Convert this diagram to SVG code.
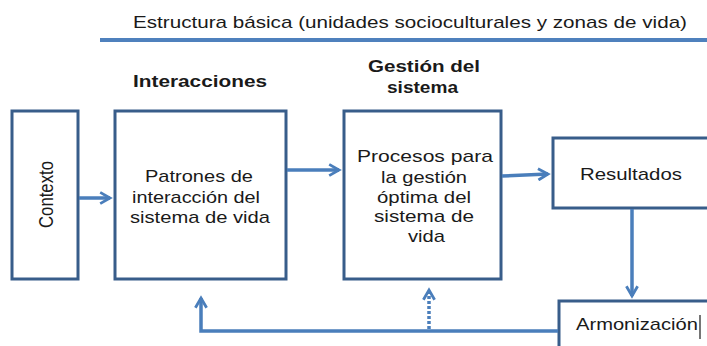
<svg xmlns="http://www.w3.org/2000/svg" width="707" height="346" viewBox="0 0 707 346">
<style>
text{font-family:"Liberation Sans",Arial,sans-serif;fill:#1a1a1a;font-size:17px}
.b{font-weight:bold;font-size:17px}
.box{fill:#fff;stroke:#385d8a;stroke-width:3}
.c{fill:none;stroke:#4a7ebb;stroke-width:3.5}
.d{stroke-dasharray:3 2}
</style>
<defs>
<marker id="ah" viewBox="0 0 10 10" refX="8" refY="5" markerWidth="4" markerHeight="4" orient="auto" markerUnits="strokeWidth">
<path d="M1,1 L8,5 L1,9" fill="none" stroke="#4a7ebb" stroke-width="2"/>
</marker>
</defs>
<g id="title">
<text x="133" y="28" textLength="554" lengthAdjust="spacingAndGlyphs">Estructura básica (unidades socioculturales y zonas de vida)</text>
<line x1="100" y1="40" x2="707" y2="40" stroke="#4f81bd" stroke-width="4"/>
</g>
<text class="b" x="133" y="87" textLength="134" lengthAdjust="spacingAndGlyphs">Interacciones</text>
<text class="b" x="368" y="72" textLength="112" lengthAdjust="spacingAndGlyphs">Gestión del</text>
<text class="b" x="387" y="93" textLength="71" lengthAdjust="spacingAndGlyphs">sistema</text>
<g id="contexto">
<rect class="box" x="12" y="111" width="66" height="168"/>
<text transform="translate(53,228) scale(1.2,1) rotate(-90)" textLength="67" lengthAdjust="spacingAndGlyphs">Contexto</text>
</g>
<g id="patrones">
<rect class="box" x="115" y="111" width="171" height="168"/>
<text x="145" y="182" textLength="108" lengthAdjust="spacingAndGlyphs">Patrones de</text>
<text x="132" y="203" textLength="128" lengthAdjust="spacingAndGlyphs">interacción del</text>
<text x="130" y="223" textLength="140" lengthAdjust="spacingAndGlyphs">sistema de vida</text>
</g>
<g id="procesos">
<rect class="box" x="344" y="111" width="157" height="168"/>
<text x="357" y="162" textLength="136" lengthAdjust="spacingAndGlyphs">Procesos para</text>
<text x="381" y="183" textLength="86" lengthAdjust="spacingAndGlyphs">la gestión</text>
<text x="377" y="203" textLength="94" lengthAdjust="spacingAndGlyphs">óptima del</text>
<text x="374" y="222" textLength="100" lengthAdjust="spacingAndGlyphs">sistema de</text>
<text x="408" y="242" textLength="37" lengthAdjust="spacingAndGlyphs">vida</text>
</g>
<g id="resultados">
<rect class="box" x="553" y="138" width="170" height="70"/>
<text x="580" y="180" textLength="102" lengthAdjust="spacingAndGlyphs">Resultados</text>
</g>
<g id="armonizacion">
<rect class="box" x="559" y="301" width="170" height="60"/>
<text x="576" y="330" textLength="122" lengthAdjust="spacingAndGlyphs">Armonización</text>
<line x1="700" y1="315" x2="700" y2="339" stroke="#1a1a1a" stroke-width="1.2"/>
</g>
<g id="connectors">
<line class="c" x1="79" y1="198" x2="110" y2="198" marker-end="url(#ah)"/>
<line class="c" x1="287" y1="170" x2="339" y2="170" marker-end="url(#ah)"/>
<line class="c" x1="502" y1="176" x2="548" y2="174" marker-end="url(#ah)"/>
<line class="c" x1="632" y1="209" x2="632" y2="296" marker-end="url(#ah)"/>
<polyline class="c" points="558,331 201,331 201,298" marker-end="url(#ah)"/>
<line class="c d" x1="429" y1="329" x2="429" y2="290" marker-end="url(#ah)"/>
</g>
</svg>
